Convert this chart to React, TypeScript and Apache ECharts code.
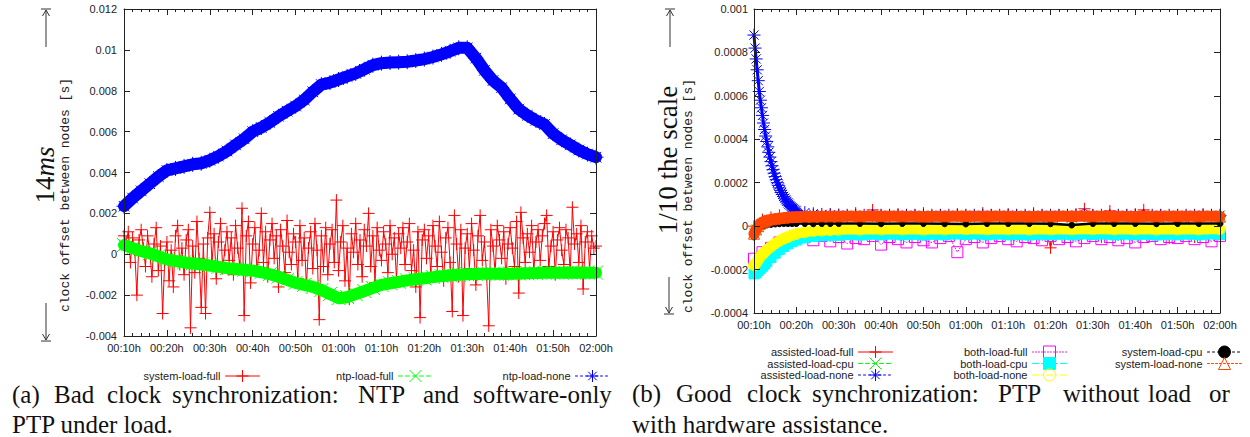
import React, { useEffect, useRef } from 'react';
import * as echarts from 'echarts';

// ---------- tick labels ----------
const xTickLabels = ['00:10h', '00:20h', '00:30h', '00:40h', '00:50h', '01:00h', '01:10h', '01:20h', '01:30h', '01:40h', '01:50h', '02:00h'];

// ---------- sample times (minutes) ----------
const halfMinTimes = Array.from({ length: 221 }, (_, i) => 10 + i * 0.5);
const twoMinTimes = Array.from({ length: 56 }, (_, i) => 10 + i * 2);
const rightTimes = [10, 10.5, 11, 11.5, 12, 12.5, 13, 14, 15, 16, 17, 18, 19, 20, 22, 24, 26, 28, 30,
  35, 40, 45, 50, 55, 60, 65, 70, 75, 80, 85, 90, 95, 100, 105, 110, 115, 120];
const decayTimes = [
  ...Array.from({ length: 41 }, (_, i) => 10 + i * 0.25),
  ...Array.from({ length: 50 }, (_, i) => 22 + i * 2),
];

// ---------- (a) values in ms ----------
const systemLoadFull = [
  0.9, 0.6, 1.1, -0.4, 0.8, 0.2, -2.0, 0.7, 1.2, 0.3,
  -0.6, 0.9, 0.1, -1.1, 0.5, 1.3, -0.8, 0.4, -2.9, -0.3,
  0.6, -1.3, 0.2, -1.6, 0.9, 1.4, -0.5, 0.3, -1.0, 0.7,
  1.2, -3.6, 0.4, -0.9, 1.6, -0.2, -2.6, 0.5, -2.9, 0.8,
  2.05, -0.4, 1.0, -1.2, 0.6, 1.5, -0.7, 0.2, 1.1, -0.3,
  0.8, -1.0, 1.4, 0.3, -0.6, 2.25, -3.0, 0.9, 1.6, -1.4,
  0.5, 1.3, -0.8, 0.2, 2.0, -0.4, 1.1, -1.1, 0.7, 1.5,
  -0.2, 0.9, -1.6, 1.2, 0.4, -0.9, 1.65, 0.1, -0.5, 1.0,
  0.6, -1.2, 1.4, -0.3, 0.8, -1.5, 0.3, 1.1, -0.7, 1.5,
  0.2, -3.2, 0.9, -0.6, 1.3, -1.0, 0.5, 1.2, -0.4, 2.65,
  -0.8, 0.6, 1.4, -1.3, 0.3, -2.2, 1.0, 0.1, 1.5, -0.5,
  0.7, -1.1, 1.2, 0.4, 2.0, -0.6, 0.9, -1.4, 1.3, 0.2,
  -0.3, 1.1, 0.5, -0.9, 1.4, 0.0, 0.8, -1.2, 1.0, 0.3,
  1.3, -0.5, 0.6, 1.5, -0.8, 0.2, -1.6, 1.1, -3.1, 0.7,
  1.2, -0.2, 0.9, -1.0, 1.4, 0.4, -0.6, 1.6, 0.1, -1.3,
  0.8, 1.3, -0.4, -2.8, 1.9, 0.5, -1.1, 1.2, -3.0, 0.3,
  1.0, -0.7, 1.5, 0.2, -1.5, 0.9, 1.9, -0.3, 0.6, -1.0,
  -3.5, 1.2, 0.4, -0.9, 1.4, 0.7, -0.2, 1.1, -1.2, 0.5,
  1.3, 0.3, -0.6, 1.6, -1.9, 2.05, 0.8, -0.4, 1.0, 0.1,
  1.4, -0.8, 0.6, 1.2, -0.3, 0.9, 1.5, 1.9, -0.6, 0.4,
  1.1, -1.0, 0.7, 1.3, 0.2, -0.5, 1.2, 0.8, -0.9, 2.3,
  0.5, 1.0, -0.4, 1.4, -1.7, 0.6, 1.1, -0.7, 0.9, 0.3,
  0.4,
];
const ntpLoadFull = [
  0.45, 0.3, 0.15, 0.05, -0.1, -0.25, -0.33, -0.4, -0.45, -0.5,
  -0.55, -0.62, -0.68, -0.72, -0.76, -0.8, -0.88, -0.98, -1.1, -1.25,
  -1.4, -1.5, -1.6, -1.75, -1.95, -2.15, -2.1, -1.95, -1.8, -1.65,
  -1.5, -1.42, -1.35, -1.28, -1.22, -1.18, -1.12, -1.07, -1.03, -1.0,
  -0.98, -0.97, -0.96, -0.95, -0.95, -0.95, -0.94, -0.93, -0.92, -0.9,
  -0.9, -0.9, -0.89, -0.9, -0.9, -0.9,
];
const ntpLoadNone = [
  2.35, 2.75, 3.1, 3.45, 3.8, 4.1, 4.2, 4.3, 4.4, 4.45,
  4.6, 4.8, 5.05, 5.35, 5.65, 6.0, 6.2, 6.45, 6.75, 7.0,
  7.25, 7.55, 7.95, 8.3, 8.4, 8.55, 8.7, 8.85, 9.05, 9.25,
  9.35, 9.38, 9.4, 9.42, 9.48, 9.55, 9.65, 9.78, 9.93, 10.1,
  10.1, 9.6, 9.0, 8.5, 8.15, 7.6, 7.1, 6.8, 6.55, 6.35,
  5.9, 5.6, 5.35, 5.1, 4.9, 4.75,
];

// ---------- (b) values in ms ----------
const assistedLoadFull = [
  0.0, 0.03, 0.04, 0.05, 0.04, 0.055, 0.045, 0.05, 0.04, 0.055,
  0.05, 0.045, 0.06, 0.04, 0.075, 0.05, 0.045, 0.055, 0.04, 0.05,
  0.06, 0.045, 0.05, 0.04, 0.055, 0.05, 0.045, 0.06, 0.05, 0.04,
  0.055, 0.05, 0.045, 0.06, 0.05, -0.1, 0.05, 0.045, 0.055, 0.08,
  0.05, -0.05, 0.07, 0.045, 0.05, 0.055, 0.075, 0.045, 0.05, -0.055,
  0.05, 0.045, -0.05, 0.055, 0.05, 0.045,
];
const assistedLoadCpu = [
  -0.03, -0.015, -0.005, 0.005, 0.012, 0.018, 0.022, 0.026, 0.03, 0.032,
  0.034, 0.035, 0.036, 0.037, 0.038, 0.038, 0.038, 0.038, 0.038,
  0.038, 0.038, 0.038, 0.038, 0.038, 0.038, 0.038, 0.038, 0.038,
  0.038, 0.038, 0.038, 0.038, 0.038, 0.038, 0.038, 0.038, 0.038,
];
const assistedLoadNone = [
  0.88, 0.82, 0.77, 0.72, 0.67, 0.62, 0.58, 0.545, 0.51, 0.475,
  0.445, 0.415, 0.39, 0.365, 0.34, 0.318, 0.297, 0.278, 0.26, 0.244,
  0.228, 0.214, 0.2, 0.188, 0.176, 0.165, 0.155, 0.146, 0.137, 0.129,
  0.121, 0.114, 0.107, 0.101, 0.095, 0.09, 0.085, 0.081, 0.077, 0.073,
  0.07,
  0.062, 0.057, 0.054, 0.052, 0.051, 0.05, 0.05, 0.05, 0.05, 0.05,
  0.05, 0.05, 0.05, 0.05, 0.05, 0.05, 0.05, 0.05, 0.05, 0.05,
  0.05, 0.05, 0.05, 0.05, 0.05, 0.05, 0.05, 0.05, 0.05, 0.05,
  0.05, 0.05, 0.05, 0.05, 0.05, 0.05, 0.05, 0.05, 0.05, 0.05,
  0.05, 0.05, 0.05, 0.05, 0.05, 0.05, 0.05, 0.05, 0.05, 0.05,
];
const bothLoadFull = [
  -0.15, -0.12, -0.1, -0.075, -0.06, -0.055, -0.05, -0.065, -0.045, -0.07,
  -0.05, -0.08, -0.055, -0.06, -0.045, -0.085, -0.05, -0.06, -0.075, -0.05,
  -0.065, -0.075, -0.055, -0.045, -0.12, -0.06, -0.05, -0.075, -0.055, -0.045,
  -0.06, -0.07, -0.05, -0.055, -0.065, -0.045, -0.06, -0.05, -0.07, -0.055,
  -0.045, -0.06, -0.05, -0.065, -0.055, -0.075, -0.05, -0.045, -0.06, -0.05,
  -0.055, -0.045, -0.06, -0.05, -0.07, -0.045,
];
const bothLoadCpu = [
  -0.22, -0.215, -0.205, -0.195, -0.185, -0.175, -0.165, -0.145, -0.125, -0.108,
  -0.094, -0.082, -0.072, -0.064, -0.054, -0.048, -0.045, -0.043, -0.042,
  -0.041, -0.04, -0.04, -0.041, -0.04, -0.039, -0.04, -0.04, -0.041,
  -0.04, -0.04, -0.039, -0.04, -0.04, -0.041, -0.04, -0.04, -0.039,
];
const bothLoadNone = [
  -0.18, -0.17, -0.155, -0.14, -0.13, -0.12, -0.11, -0.095, -0.08, -0.068,
  -0.058, -0.05, -0.042, -0.036, -0.028, -0.022, -0.02, -0.018, -0.017,
  -0.016, -0.015, -0.015, -0.016, -0.015, -0.014, -0.015, -0.015, -0.016,
  -0.015, -0.015, -0.014, -0.015, -0.015, -0.016, -0.015, -0.015, -0.014,
];
const systemLoadCpu = [
  -0.05, -0.03, -0.015, -0.005, 0.0, 0.004, 0.006, 0.008, 0.01, 0.011,
  0.012, 0.012, 0.012, 0.012, 0.012, 0.011, 0.012, 0.012, 0.012,
  0.012, 0.011, 0.012, 0.012, 0.011, 0.01, 0.012, 0.012, 0.012,
  0.011, 0.005, 0.012, 0.012, 0.012, 0.011, 0.012, 0.012, 0.012,
];
const systemLoadNone = [
  -0.035, -0.015, 0.0, 0.012, 0.018, 0.023, 0.027, 0.031, 0.034, 0.037,
  0.039, 0.041, 0.042, 0.043, 0.044, 0.044, 0.045, 0.045, 0.045,
  0.045, 0.046, 0.045, 0.044, 0.045, 0.046, 0.045, 0.045, 0.044,
  0.045, 0.046, 0.045, 0.045, 0.044, 0.045, 0.046, 0.045, 0.045,
];

// ---------- styling ----------
const SANS = '"Liberation Sans", Arial, Helvetica, sans-serif';
const SERIF = '"Liberation Serif", "Times New Roman", serif';
const MONO = '"Liberation Mono", "Courier New", monospace';
const AXIS_COLOR = '#222';

const PLUS = 'path://M0,6L12,6M6,0L6,12';
const CROSS = 'path://M0,0L12,12M0,12L12,0';
const STAR = 'path://M0,6L12,6M6,0L6,12M1.76,1.76L10.24,10.24M1.76,10.24L10.24,1.76';
const SQUARE = 'path://M0,0L12,0L12,12L0,12Z';
const CIRCLE = 'path://M12,6A6,6,0,1,1,0,6A6,6,0,1,1,12,6Z';
const TRIANGLE = 'path://M6,0L12,11L0,11Z';
const CLEAR = 'rgba(0,0,0,0)';

const pair = (t: number[], v: number[]) => t.map((x, i) => [x, v[i]]);
const fmtSec = (v: number) => String(parseFloat((v / 1000).toFixed(6)));
const fmtTime = (v: number) => xTickLabels[Math.round((v - 10) / 10)] ?? '';

function xAxes(grid: number) {
  const base = {
    type: 'value', gridIndex: grid, min: 10, max: 120, interval: 10, z: 30,
    axisLine: { show: true, onZero: false, lineStyle: { color: AXIS_COLOR, width: 1 } },
    axisTick: { show: true, inside: true, length: 6, lineStyle: { color: AXIS_COLOR } },
    minorTick: { show: true, splitNumber: 5, length: 3, lineStyle: { color: AXIS_COLOR } },
    splitLine: { show: false },
  };
  return [
    { ...base, position: 'bottom', axisLabel: { show: true, margin: 6, formatter: fmtTime, fontSize: 11, fontFamily: SANS, color: AXIS_COLOR } },
    { ...base, position: 'top', axisLabel: { show: false } },
  ];
}
function yAxes(grid: number, min: number, max: number, interval: number, margin: number) {
  const base = {
    type: 'value', gridIndex: grid, min, max, interval, z: 30,
    axisLine: { show: true, onZero: false, lineStyle: { color: AXIS_COLOR, width: 1 } },
    axisTick: { show: true, inside: true, length: 6, lineStyle: { color: AXIS_COLOR } },
    splitLine: { show: false },
  };
  return [
    { ...base, position: 'left', axisLabel: { show: true, margin, formatter: fmtSec, fontSize: 11, fontFamily: SANS, color: AXIS_COLOR } },
    { ...base, position: 'right', axisLabel: { show: false } },
  ];
}

type SDef = {
  name: string; data: number[][]; axis: number; color: string; symbol: string; size: number;
  fill: string; width: number; dash: any; legendDash: any;
};
const mkSeries = (d: SDef, i: number) => ({
  name: d.name, type: 'line', xAxisIndex: d.axis, yAxisIndex: d.axis, data: d.data, z: 3 + i,
  symbol: d.symbol, symbolSize: d.size, showSymbol: true, showAllSymbol: true,
  lineStyle: { color: d.color, width: d.width, type: d.dash, cap: 'round', join: 'round' },
  itemStyle: { color: d.fill, borderColor: d.color, borderWidth: 1 },
  emphasis: { disabled: true }, silent: true,
});

const defs: SDef[] = [
  { name: 'system-load-full', data: pair(halfMinTimes, systemLoadFull), axis: 0, color: '#ff0000', symbol: PLUS, size: 12, fill: '#ff0000', width: 1, dash: 'solid', legendDash: 'solid' },
  { name: 'ntp-load-full', data: pair(twoMinTimes, ntpLoadFull), axis: 0, color: '#00ff00', symbol: CROSS, size: 14, fill: '#00ff00', width: 12, dash: 'solid', legendDash: [4, 3] },
  { name: 'ntp-load-none', data: pair(twoMinTimes, ntpLoadNone), axis: 0, color: '#0000ff', symbol: STAR, size: 15, fill: '#0000ff', width: 12, dash: 'solid', legendDash: [2, 3] },

  { name: 'assisted-load-full', data: pair(twoMinTimes, assistedLoadFull), axis: 2, color: '#ff0000', symbol: PLUS, size: 12, fill: '#ff0000', width: 1, dash: 'solid', legendDash: 'solid' },
  { name: 'assisted-load-cpu', data: pair(rightTimes, assistedLoadCpu), axis: 2, color: '#00ff00', symbol: CROSS, size: 10, fill: '#00ff00', width: 1, dash: [4, 3], legendDash: [4, 3] },
  { name: 'assisted-load-none', data: pair(decayTimes, assistedLoadNone), axis: 2, color: '#0000ff', symbol: STAR, size: 13, fill: '#0000ff', width: 3, dash: 'solid', legendDash: [2, 3] },
  { name: 'both-load-full', data: pair(twoMinTimes, bothLoadFull), axis: 2, color: '#ff00ff', symbol: SQUARE, size: 11, fill: CLEAR, width: 1, dash: [1, 2], legendDash: [1, 2] },
  { name: 'both-load-cpu', data: pair(rightTimes, bothLoadCpu), axis: 2, color: '#00ffff', symbol: 'rect', size: 10, fill: '#00ffff', width: 10, dash: 'solid', legendDash: [6, 3, 2, 3] },
  { name: 'both-load-none', data: pair(rightTimes, bothLoadNone), axis: 2, color: '#ffff00', symbol: CIRCLE, size: 11, fill: CLEAR, width: 10, dash: 'solid', legendDash: [6, 3, 2, 3] },
  { name: 'system-load-cpu', data: pair(rightTimes, systemLoadCpu), axis: 2, color: '#000000', symbol: 'circle', size: 6, fill: '#000000', width: 2.5, dash: 'solid', legendDash: [2, 3] },
  { name: 'system-load-none', data: pair(rightTimes, systemLoadNone), axis: 2, color: '#ff4500', symbol: TRIANGLE, size: 11, fill: CLEAR, width: 11, dash: 'solid', legendDash: [2, 2] },
];

// legend anchor: [x of icon's right end, center y]
const legendPlaces: Record<string, [number, number]> = {
  'system-load-full': [260, 377],
  'ntp-load-full': [433, 377],
  'ntp-load-none': [610, 377],
  'assisted-load-full': [893, 353],
  'assisted-load-cpu': [893, 364.5],
  'assisted-load-none': [893, 376],
  'both-load-full': [1067, 353],
  'both-load-cpu': [1067, 364.5],
  'both-load-none': [1067, 376],
  'system-load-cpu': [1242, 353],
  'system-load-none': [1242, 364.5],
};

const legends = defs.map((d) => {
  const [xr, yc] = legendPlaces[d.name];
  return {
    data: [{
      name: d.name,
      lineStyle: { color: d.color, width: 1, type: d.legendDash, opacity: 1 },
      itemStyle: { color: d.fill, borderColor: d.color, borderWidth: 1, opacity: 1 },
    }],
    orient: 'horizontal', align: 'right', padding: 0,
    right: 1250 - xr, top: yc - 7.5,
    itemWidth: 34, itemHeight: 15, selectedMode: false,
    textStyle: { fontSize: 11, fontFamily: SANS, color: AXIS_COLOR },
  };
});

// caption pieces: [text, left x, center y]
const captionWords: [string, number, number][] = [
  ['(a)', 12, 394], ['Bad', 54, 394], ['clock', 107, 394], ['synchronization:', 172, 394],
  ['NTP', 358, 394], ['and', 423, 394], ['software-only', 473, 394],
  ['PTP under load.', 12, 424],
  ['(b)', 632, 393], ['Good', 676, 393], ['clock', 747, 393], ['synchronization:', 812, 393],
  ['PTP', 998, 393], ['without', 1063, 393], ['load', 1148, 393], ['or', 1209, 393],
  ['with hardware assistance.', 632, 424],
];

const txt = (text: string, x: number, y: number, fontSize: number, family: string) => ({
  type: 'text', x, y, silent: true,
  style: {
    text, fontSize, fontFamily: family, fill: '#111',
    align: 'left', textAlign: 'left', verticalAlign: 'middle', textVerticalAlign: 'middle',
  },
});

const rotText = (text: string, x: number, y: number, fontSize: number, family: string, extra: any = {}) => ({
  type: 'text', x, y, rotation: Math.PI / 2, silent: true,
  style: {
    text, fontSize, fontFamily: family, fill: '#222',
    align: 'center', textAlign: 'center', verticalAlign: 'middle', textVerticalAlign: 'middle', ...extra,
  },
});

const arrowParts = (x: number, yTail: number, yHead: number) => {
  const dir = yHead < yTail ? -1 : 1;
  const s = { stroke: '#333', lineWidth: 1, fill: null };
  return [
    { type: 'line', silent: true, shape: { x1: x, y1: yTail, x2: x, y2: yHead }, style: s },
    { type: 'polyline', silent: true, shape: { points: [[x - 3.5, yHead - dir * 6], [x, yHead], [x + 3.5, yHead - dir * 6]] }, style: s },
    { type: 'line', silent: true, shape: { x1: x - 5, y1: yHead + dir * 1, x2: x + 5, y2: yHead + dir * 1 }, style: s },
  ];
};

const graphics: any[] = [
  ...captionWords.map(([w, x, y]) => txt(w, x, y, 25, SERIF)),
  rotText('clock offset between nodes [s]', 65, 195, 13, MONO),
  rotText('clock offset between nodes [s]', 688, 196, 13, MONO),
  rotText('{n|14}{i|ms}', 45, 175, 26, SERIF, {
    rich: {
      n: { fontSize: 27, fontFamily: SERIF, fill: '#111', color: '#111' },
      i: { fontSize: 27, fontFamily: SERIF, fontStyle: 'italic', fill: '#111', color: '#111' },
    },
  }),
  rotText('1/10 the scale', 668, 160, 27, SERIF, { fill: '#111' }),
  ...arrowParts(46, 47, 10),
  ...arrowParts(46, 303, 340),
  ...arrowParts(670, 47, 10),
  ...arrowParts(669, 277, 313),
];

export default function App() {
  const ref = useRef<HTMLDivElement>(null);
  useEffect(() => {
    if (!ref.current) return;
    const chart = echarts.init(ref.current, null, { renderer: 'svg' });
    chart.setOption({
      animation: false,
      backgroundColor: '#ffffff',
      grid: [
        { left: 124, top: 9, width: 472, height: 327 },
        { left: 754, top: 9, width: 466, height: 304 },
      ],
      xAxis: [...xAxes(0), ...xAxes(1)],
      yAxis: [...yAxes(0, -4, 12, 2, 7), ...yAxes(1, -0.4, 1.0, 0.2, 6)],
      legend: legends,
      series: defs.map(mkSeries),
      graphic: graphics,
    });
    return () => chart.dispose();
  }, []);
  return <div ref={ref} style={{ position: 'absolute', left: 0, top: 0, width: 1250, height: 437 }} />;
}
